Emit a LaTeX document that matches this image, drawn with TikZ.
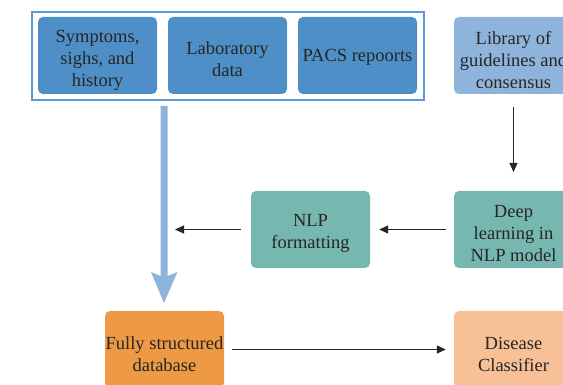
\documentclass[tikz,border=0pt]{standalone}
\usepackage{fontspec}
\setmainfont{Liberation Serif}
\usetikzlibrary{arrows.meta}
\definecolor{srcblue}{HTML}{4F8FC7}
\definecolor{libblue}{HTML}{8FB4DC}
\definecolor{framblue}{HTML}{5B9BD5}
\definecolor{tealbox}{HTML}{76B7B0}
\definecolor{orangebox}{HTML}{EE9A45}
\definecolor{peachbox}{HTML}{F8C096}
\definecolor{txt}{HTML}{262626}
\begin{document}
\begin{tikzpicture}[x=1pt,y=-1pt,
  box/.style={rounded corners=5pt, minimum width=119pt, minimum height=77pt,
    inner sep=0pt},
  lbl/.style={inner sep=0pt, align=center, text=txt,
    font=\fontsize{18.5}{22}\selectfont},
  link/.style={-{Triangle[length=9pt,width=8pt]}, line width=1.3pt, draw=txt}]
\useasboundingbox (0,0) rectangle (563,385);
\clip (0,0) rectangle (563,385);

% source data group
\draw[framblue, line width=1.4pt] (32,12) rectangle (424,100);
\node[box, fill=srcblue] (sym) at (97.5,55.5) {};
\node[lbl] (symt) at ([yshift=-4.5pt]sym.center) {Symptoms,\\sighs, and\\history};
\node[box, fill=srcblue] (lab) at (227.5,55.5) {};
\node[lbl] (labt) at ([yshift=-4pt]lab.center) {Laboratory\\data};
\node[box, fill=srcblue] (pacs) at (357.5,55.5) {};
\node[lbl] (pacst) at ([yshift=-2pt]pacs.center) {PACS repoorts};

% knowledge pipeline
\node[box, fill=libblue] (lib) at (513.5,55.5) {};
\node[lbl] (libt) at ([yshift=-4.5pt]lib.center) {Library of\\guidelines and\\consensus};
\node[box, fill=tealbox] (deep) at (513.5,229.5) {};
\node[lbl] (deept) at ([yshift=-4.5pt]deep.center) {Deep\\learning in\\NLP model};
\node[box, fill=tealbox] (nlp) at (310.5,229.5) {};
\node[lbl] (nlpt) at ([yshift=-4pt]nlp.center) {NLP\\formatting};

% outputs
\node[box, fill=orangebox] (db) at (164.5,349.5) {};
\node[lbl] (dbt) at ([yshift=-5pt]db.center) {Fully structured\\database};
\node[box, fill=peachbox] (cls) at (513.5,349.5) {};
\node[lbl] (clst) at ([yshift=-5pt]cls.center) {Disease\\Classifier};

% wide arrow from the source group to the database
\fill[libblue] (160.5,106) -- (160.5,276) -- (151,272) -- (164,303)
  -- (177.5,272) -- (167.5,276) -- (167.5,106) -- cycle;

% connectors
\coordinate (gin) at (175,229.5);
\draw[link] (lib.south |- 0,107) -- (lib.south |- 0,172);
\draw[link] ([xshift=-8pt]deep.west) -- ([xshift=9pt]nlp.east);
\draw[link] ([xshift=-10pt]nlp.west) -- (gin);
\draw[link] ([xshift=8pt]db.east) -- ([xshift=-8pt]cls.west);
\end{tikzpicture}
\end{document}
